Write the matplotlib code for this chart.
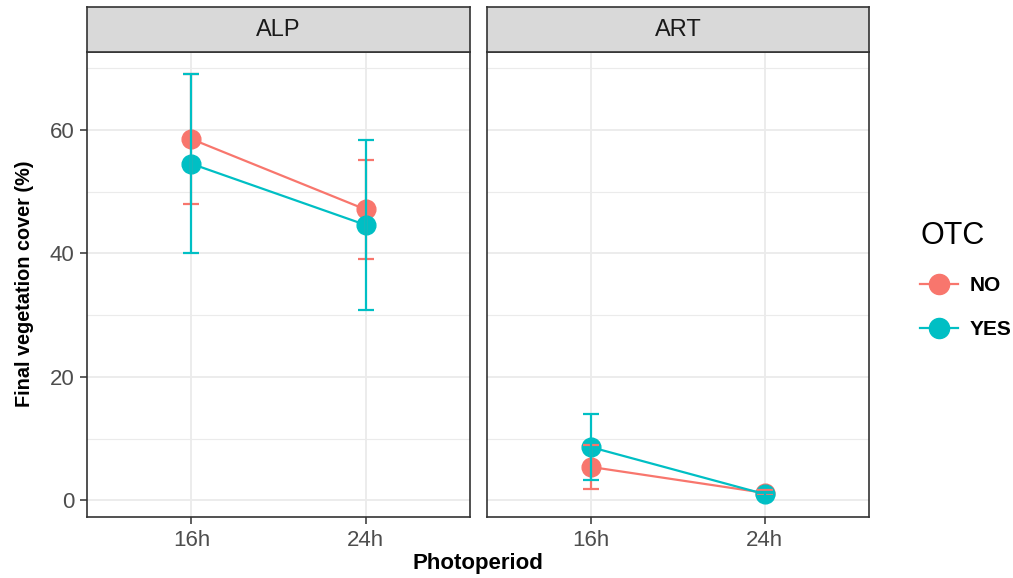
import numpy as np
import matplotlib.pyplot as plt
from matplotlib.lines import Line2D

plt.rcParams['font.family'] = ['Liberation Sans', 'DejaVu Sans']

# data
sites = ['ALP', 'ART']
photoperiods = ['16h', '24h']
otc_levels = ['NO', 'YES']
means = {
    ('ALP', 'NO'): [58.5, 47.1],
    ('ALP', 'YES'): [54.5, 44.6],
    ('ART', 'NO'): [5.4, 1.2],
    ('ART', 'YES'): [8.6, 1.0],
}
errs = {
    ('ALP', 'NO'): [10.5, 8.0],
    ('ALP', 'YES'): [14.5, 13.7],
    ('ART', 'NO'): [3.5, 0.4],
    ('ART', 'YES'): [5.3, 0.3],
}
colors = {'NO': '#F8766D', 'YES': '#00BFC4'}

fig = plt.figure(figsize=(10.13, 5.78), dpi=100)
W, H = 1013, 578
panels = [(87, 470), (487, 869)]
top, bottom, strip_top = 52, 517, 7

x = np.arange(len(photoperiods))
for i, site in enumerate(sites):
    l, r = panels[i]
    ax = fig.add_axes([l / W, 1 - bottom / H, (r - l) / W, (bottom - top) / H])
    ax.set_xlim(-0.6, len(photoperiods) - 0.4)
    ax.set_ylim(-2.7, 72.6)
    ax.set_yticks([0, 20, 40, 60])
    ax.set_yticks([10, 30, 50, 70], minor=True)
    ax.set_xticks(x)
    ax.set_xticklabels(photoperiods)
    ax.grid(True, which='major', color='#EBEBEB', lw=1.3, zorder=0)
    ax.grid(True, which='minor', axis='y', color='#EBEBEB', lw=0.8, zorder=0)
    ax.set_axisbelow(True)
    for s in ax.spines.values():
        s.set_color('#333333')
        s.set_linewidth(1.2)
    ax.tick_params(which='major', length=5, width=1.1, color='#333333', pad=4,
                   labelsize=16, labelcolor='#4D4D4D')
    ax.tick_params(which='minor', length=0)
    if i > 0:
        ax.set_yticklabels([])
        ax.tick_params(axis='y', length=0)

    # points, then lines, then error bars on top (as in the ggplot layering)
    for otc in otc_levels:
        m = np.array(means[(site, otc)])
        ax.plot(x, m, 'o', color=colors[otc], ms=13.5, zorder=3)
    for otc in otc_levels:
        m = np.array(means[(site, otc)])
        ax.plot(x, m, '-', color=colors[otc], lw=1.6, zorder=4)
    for otc in otc_levels:
        m = np.array(means[(site, otc)])
        e = np.array(errs[(site, otc)])
        ax.errorbar(x, m, yerr=e, fmt='none', ecolor=colors[otc], elinewidth=1.6,
                    capsize=6, capthick=1.6, zorder=5)

    # facet strip
    sax = fig.add_axes([l / W, 1 - top / H, (r - l) / W, (top - strip_top) / H])
    sax.set_facecolor('#D9D9D9')
    sax.set_xticks([])
    sax.set_yticks([])
    for s in sax.spines.values():
        s.set_color('#333333')
        s.set_linewidth(1.2)
    sax.text(0.5, 0.5, site, ha='center', va='center', fontsize=17, color='#1A1A1A')

fig.text((87 + 869) / 2 / W, 1 - 564 / H, 'Photoperiod', ha='center', va='center',
         fontsize=16, fontweight='bold')
fig.text(24 / W, 1 - 284 / H, 'Final vegetation cover (%)', ha='center', va='center',
         rotation=90, fontsize=14.3, fontweight='bold')

handles = [Line2D([], [], color=colors[o], marker='o', ms=14.5, lw=1.6) for o in otc_levels]
fig.legend(handles, otc_levels, title='OTC', loc='center left',
           bbox_to_anchor=(920 / W, 1 - 280 / H), frameon=False,
           prop={'size': 15, 'weight': 'bold'}, title_fontsize=22,
           handlelength=1.8, handletextpad=0.6, borderpad=0, borderaxespad=0,
           labelspacing=1.2, alignment='left')

fig.savefig('out.png', dpi=100)
